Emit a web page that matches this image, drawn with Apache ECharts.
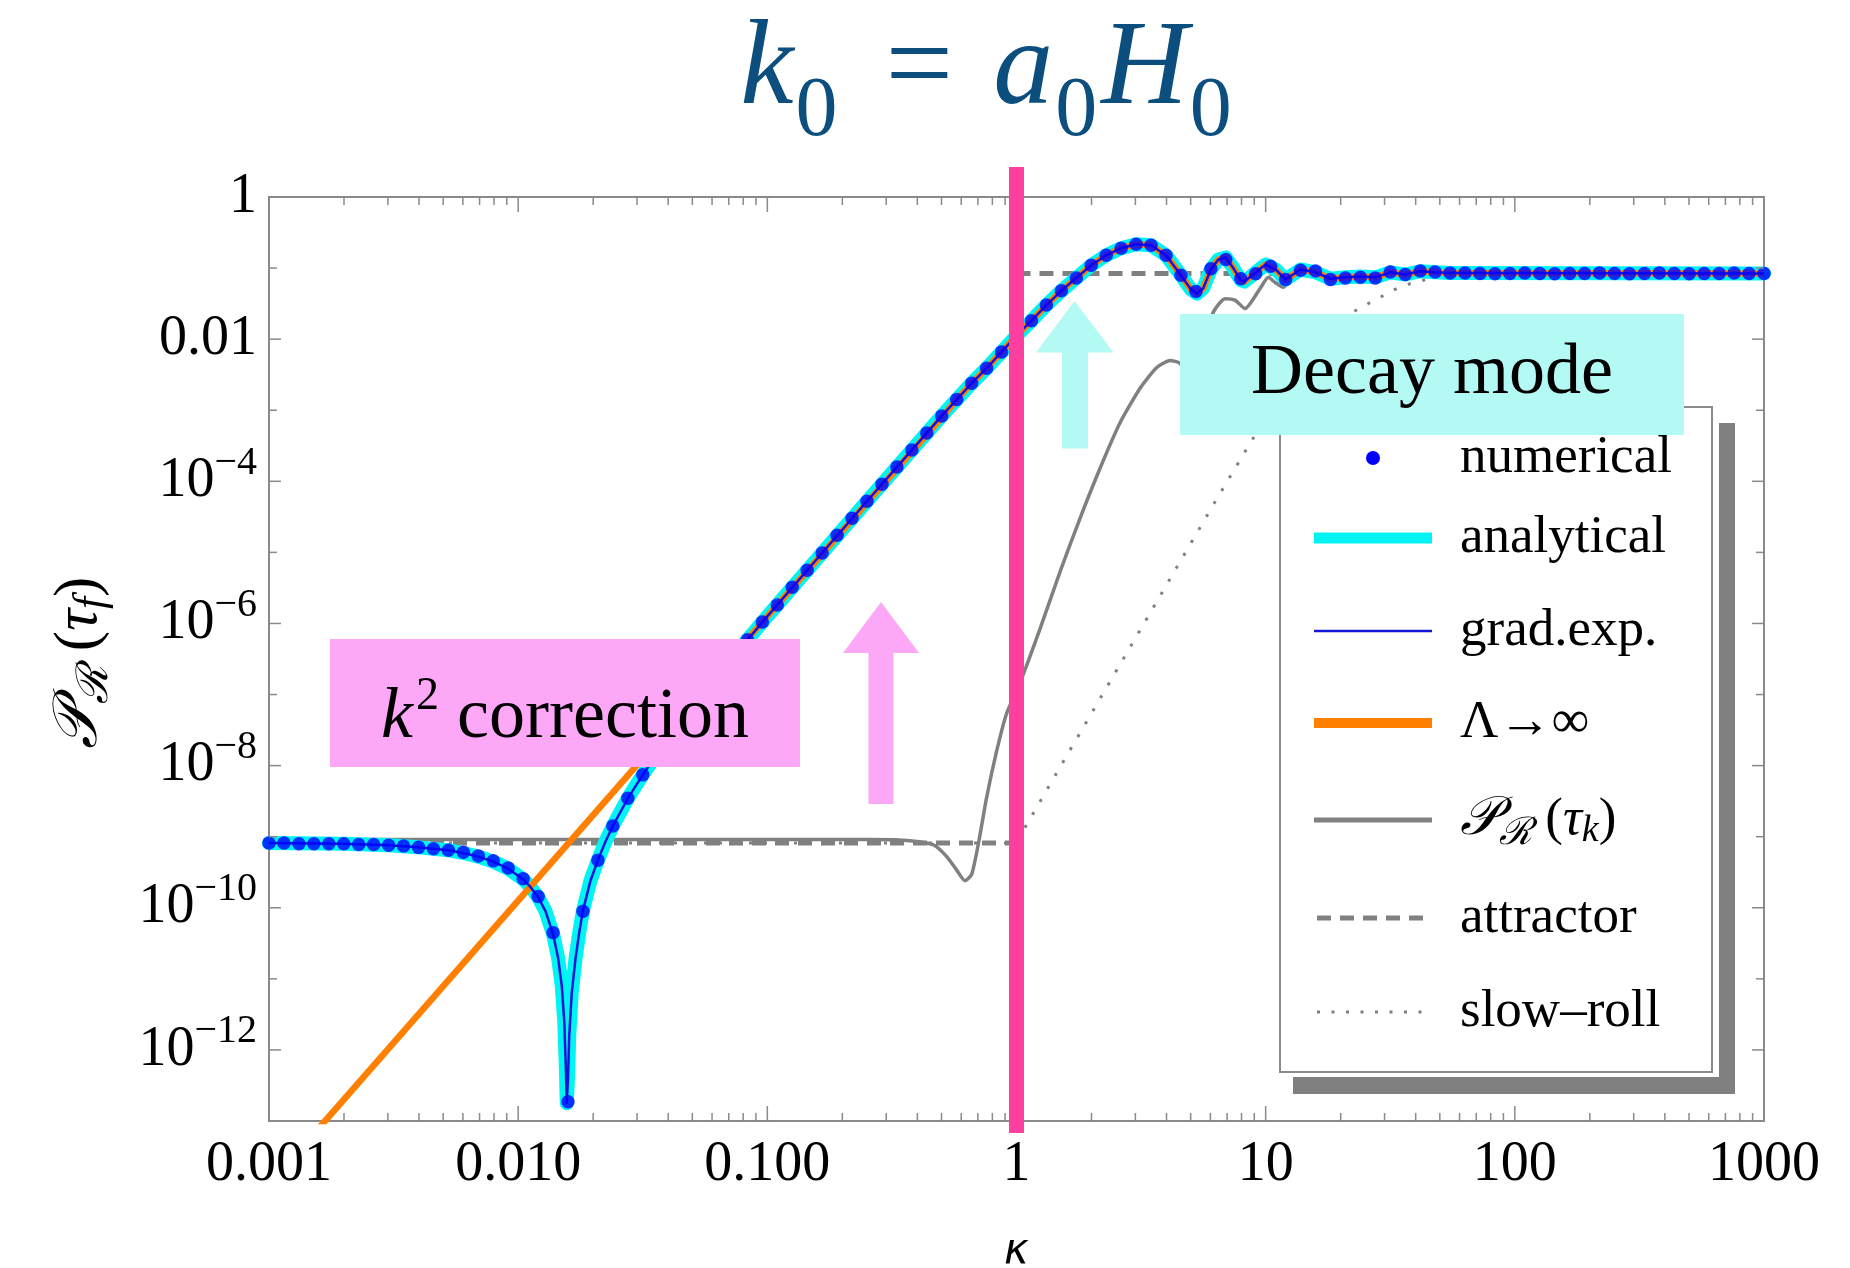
<!DOCTYPE html>
<html><head><meta charset="utf-8">
<script src="https://cdn.jsdelivr.net/npm/echarts@6/dist/echarts.min.js"></script>
<style>html,body{margin:0;padding:0;background:#fff;}#c{width:1850px;height:1268px;}</style>
</head><body><div id="c"></div>
<script>
// ---------- tick labels ----------
const xTickValues = [0.001, 0.01, 0.1, 1, 10, 100, 1000];
const xTickLabels = ['0.001', '0.010', '0.100', '1', '10', '100', '1000'];
const yLabelExps = [0, -2, -4, -6, -8, -10, -12];
const yLabelTexts = ['1', '0.01', '10|4', '10|6', '10|8', '10|10', '10|12'];
const seriesNames = ['numerical', 'analytical', 'grad.exp.', 'Λ→∞', 'P_R(τ_k)', 'attractor', 'slow–roll'];

// ---------- data (log10 k , log10 P) ----------
const numLogK = [-3.00,-2.94,-2.88,-2.82,-2.76,-2.70,-2.64,-2.58,-2.52,-2.46,
-2.40,-2.34,-2.28,-2.22,-2.16,-2.10,-2.04,-1.98,-1.92,-1.86,
-1.80,-1.74,-1.68,-1.62,-1.56,-1.50,-1.44,-1.38,-1.32,-1.26,
-1.20,-1.14,-1.08,-1.02,-0.96,-0.90,-0.84,-0.78,-0.72,-0.66,
-0.60,-0.54,-0.48,-0.42,-0.36,-0.30,-0.24,-0.18,-0.12,-0.06,
0.00,0.06,0.12,0.18,0.24,0.30,0.36,0.42,0.48,0.54,
0.60,0.66,0.72,0.78,0.84,0.90,0.96,1.02,1.08,1.14,
1.20,1.26,1.32,1.38,1.44,1.50,1.56,1.62,1.68,1.74,
1.80,1.86,1.92,1.98,2.04,2.10,2.16,2.22,2.28,2.34,
2.40,2.46,2.52,2.58,2.64,2.70,2.76,2.82,2.88,2.94,
3.00];
const numLogP = [-9.09,-9.09,-9.10,-9.10,-9.10,-9.10,-9.11,-9.11,-9.12,-9.13,
-9.15,-9.17,-9.19,-9.22,-9.27,-9.34,-9.44,-9.59,-9.84,-10.35,
-12.73,-10.05,-9.33,-8.85,-8.46,-8.13,-7.82,-7.53,-7.26,-6.99,
-6.73,-6.48,-6.23,-5.98,-5.74,-5.49,-5.25,-5.01,-4.76,-4.52,
-4.28,-4.04,-3.80,-3.56,-3.32,-3.08,-2.85,-2.62,-2.41,-2.18,
-1.95,-1.74,-1.52,-1.32,-1.14,-0.96,-0.82,-0.72,-0.665,-0.68,
-0.82,-1.10,-1.33,-1.01,-0.88,-1.15,-1.08,-0.975,-1.16,-1.03,
-1.04,-1.16,-1.14,-1.13,-1.14,-1.055,-1.09,-1.04,-1.055,-1.07,
-1.07,-1.075,-1.08,-1.075,-1.07,-1.075,-1.08,-1.075,-1.075,-1.07,
-1.075,-1.08,-1.075,-1.07,-1.075,-1.08,-1.075,-1.075,-1.07,-1.075,
-1.075];

const anaLogK = [-3.00,-2.70,-2.52,-2.40,-2.28,-2.22,-2.16,-2.10,-2.04,-1.98,-1.95,-1.92,-1.89,-1.86,-1.84,-1.825,-1.815,-1.809,-1.805,-1.800,-1.795,-1.785,-1.77,-1.755,-1.74,-1.71,-1.68,-1.65,-1.62,-1.56,-1.50,-1.40,-1.30,-1.20,-1.00,-0.80,-0.60,-0.40,-0.30,-0.24,-0.18,-0.12,-0.06,0.00,0.06,0.12,0.18,0.24,0.30,0.36,0.42,0.48,0.54,0.60,0.66,0.70,0.725,0.75,0.78,0.81,0.84,0.87,0.90,0.915,0.96,1.00,1.04,1.08,1.14,1.20,1.26,1.32,1.38,1.44,1.50,1.56,1.62,1.68,1.74,1.80,3.00];
const anaLogP = [-9.09,-9.10,-9.12,-9.15,-9.19,-9.23,-9.28,-9.35,-9.45,-9.60,-9.71,-9.85,-10.05,-10.37,-10.70,-11.10,-11.60,-12.20,-12.75,-12.40,-11.80,-11.20,-10.72,-10.35,-10.04,-9.62,-9.33,-9.07,-8.85,-8.46,-8.13,-7.62,-7.17,-6.73,-5.90,-5.09,-4.28,-3.48,-3.08,-2.85,-2.62,-2.41,-2.18,-1.95,-1.74,-1.52,-1.32,-1.14,-0.96,-0.82,-0.72,-0.665,-0.68,-0.82,-1.10,-1.30,-1.36,-1.28,-1.02,-0.88,-0.85,-1.00,-1.17,-1.19,-1.06,-0.95,-1.02,-1.16,-1.02,-1.06,-1.15,-1.13,-1.12,-1.13,-1.06,-1.09,-1.045,-1.06,-1.07,-1.07,-1.075];

const lamLowLogK = [-2.80,-2.40,-2.00,-1.60,-1.20,-1.00,-0.80,-0.60,-0.40,-0.30];
const lamLowLogP = [-13.10,-11.50,-9.90,-8.30,-6.70,-5.90,-5.10,-4.30,-3.50,-3.10];

const tauLogK = [-3.00,-0.60,-0.47,-0.39,-0.33,-0.28,-0.24,-0.207,-0.18,-0.153,-0.12,-0.08,-0.04,0.02,0.094,0.175,0.255,0.335,0.415,0.496,0.563,0.616,0.656,0.70,0.75,0.79,0.837,0.877,0.917,0.977,1.011,1.037,1.071,1.10,1.14,1.20,3.00];
const tauLogP = [-9.04,-9.04,-9.045,-9.07,-9.12,-9.28,-9.47,-9.62,-9.53,-9.10,-8.45,-7.80,-7.27,-6.78,-6.08,-5.27,-4.52,-3.82,-3.18,-2.69,-2.40,-2.30,-2.34,-2.55,-2.05,-1.62,-1.43,-1.45,-1.57,-1.29,-1.13,-1.20,-1.27,-1.17,-1.10,-1.09,-1.08];

const attLogK = [-3.00, 0.00, 0.00, 0.00, 3.00];
const attLogP = [-9.09, -9.09, null, -1.077, -1.077];

const srLogK = [-3.00,0.00,0.034,0.20,0.40,0.60,0.80,0.94,1.05,1.15,1.25,1.34,1.40,1.45,1.50,1.55,1.61,1.68,1.80,3.00];
const srLogP = [-9.09,-9.09,-8.87,-7.87,-6.67,-5.47,-4.27,-3.45,-2.82,-2.32,-1.93,-1.64,-1.52,-1.43,-1.33,-1.25,-1.19,-1.13,-1.09,-1.08];

// ---------- styling ----------
const FONT = "'Liberation Serif','Times New Roman',serif";
const GRAY = '#808080';
const CYAN = '#00f4f4';
const BLUE_DOT = '#0000ff';
const BLUE_LINE = '#1414d8';
const ORANGE = '#ff8000';
const PINK_LINE = '#ff3fa0';
const PINK_BOX = '#fca8f7';
const CYAN_BOX = '#b3f9f4';
const TITLE_C = '#0c4e7e';

const p10 = v => (v === null ? null : Math.pow(10, v));
const pairs = (K, P) => K.map((k, i) => [p10(k), p10(P[i])]);

const lamLogK = lamLowLogK.concat(anaLogK.filter(k => k > -0.30));
const lamLogP = lamLowLogP.concat(anaLogP.filter((p, i) => anaLogK[i] > -0.30));

// axis tick marks (decorations)
const tickData = [];
xTickValues.forEach(v => tickData.push([v, 1e-6, 15, 0]));
for (let d = -3; d < 3; d++) for (let m = 2; m <= 9; m++) tickData.push([m * Math.pow(10, d), 1e-6, 8, 0]);
for (let e = -13; e <= 0; e++) tickData.push([1, Math.pow(10, e), (e % 2 === 0) ? 12 : 8, 1]);
const yLabelData = yLabelExps.map((e, i) => [1, Math.pow(10, e), i]);

const yRich = {
  b: {fontSize: 56, fontFamily: FONT, fill: '#000', lineHeight: 56, verticalAlign: 'middle'},
  s: {fontSize: 40, fontFamily: FONT, fill: '#000', lineHeight: 40, verticalAlign: 'middle', padding: [0, 0, 36, 0]}
};
function yLabelRich(i) {
  const t = yLabelTexts[i];
  if (t.indexOf('|') < 0) return '{b|' + t + '}';
  const parts = t.split('|');
  return '{b|' + parts[0] + '}{s|−' + parts[1] + '}';
}

const chart = echarts.init(document.getElementById('c'), null, {renderer: 'canvas', width: 1850, height: 1268});

const lineBase = {type: 'line', symbol: 'none', silent: true, animation: false, clip: true};

chart.setOption({
  animation: false,
  backgroundColor: '#ffffff',
  grid: {left: 269, top: 197, width: 1495, height: 924, show: true, borderColor: '#8a8a8a', borderWidth: 2,
         backgroundColor: 'transparent', containLabel: false, outerBoundsMode: 'none'},
  xAxis: {
    type: 'log', logBase: 10, min: 0.001, max: 1000, splitNumber: 6,
    axisLine: {show: false}, axisTick: {show: false}, splitLine: {show: false}, minorTick: {show: false},
    axisLabel: {
      fontSize: 56, fontFamily: FONT, color: '#000', margin: 16,
      formatter: v => { const i = xTickValues.findIndex(t => Math.abs(Math.log10(t) - Math.log10(v)) < 1e-6); return i >= 0 ? xTickLabels[i] : ''; }
    },
    name: 'κ', nameLocation: 'middle', nameGap: 110,
    nameTextStyle: {fontSize: 42, fontStyle: 'italic', fontFamily: "'DejaVu Sans',sans-serif", color: '#000'}
  },
  yAxis: {
    type: 'log', logBase: 10, min: 1e-13, max: 1,
    axisLine: {show: false}, axisTick: {show: false}, splitLine: {show: false}, minorTick: {show: false},
    axisLabel: {show: false}
  },
  series: [
    Object.assign({}, lineBase, {name: seriesNames[6], data: pairs(srLogK, srLogP), z: 2,
      lineStyle: {color: GRAY, width: 3, type: [3, 12], cap: 'butt'}}),
    Object.assign({}, lineBase, {name: seriesNames[5], data: pairs(attLogK, attLogP), z: 3, connectNulls: false,
      lineStyle: {color: GRAY, width: 5, type: [14, 9], cap: 'butt'}}),
    Object.assign({}, lineBase, {name: seriesNames[4], data: pairs(tauLogK, tauLogP), z: 4, smooth: 0.2,
      lineStyle: {color: GRAY, width: 3.5}}),
    Object.assign({}, lineBase, {name: seriesNames[1], data: pairs(anaLogK, anaLogP), z: 5,
      lineStyle: {color: CYAN, width: 14, join: 'round', cap: 'round'}}),
    Object.assign({}, lineBase, {name: seriesNames[3], data: pairs(lamLogK, lamLogP), z: 6,
      lineStyle: {color: ORANGE, width: 6.5, join: 'round'}}),
    Object.assign({}, lineBase, {name: seriesNames[2], data: pairs(anaLogK, anaLogP), z: 7,
      lineStyle: {color: BLUE_LINE, width: 2.5, join: 'round'}}),
    {type: 'scatter', name: seriesNames[0], data: pairs(numLogK, numLogP), z: 8, silent: true, animation: false,
      symbol: 'circle', symbolSize: 13.5, itemStyle: {color: BLUE_DOT}},
    {type: 'custom', name: 'ticks', data: tickData, z: 9, silent: true, animation: false, clip: false,
      encode: {x: 0, y: 1},
      renderItem: function (params, api) {
        const cs = params.coordSys;
        const len = api.value(2), kind = api.value(3);
        const st = {stroke: '#8a8a8a', lineWidth: 1.5};
        if (kind === 0) {
          const x = api.coord([api.value(0), 1e-6])[0];
          return {type: 'group', children: [
            {type: 'line', shape: {x1: x, y1: cs.y + cs.height, x2: x, y2: cs.y + cs.height - len}, style: st},
            {type: 'line', shape: {x1: x, y1: cs.y, x2: x, y2: cs.y + len}, style: st}
          ]};
        }
        const y = api.coord([1, api.value(1)])[1];
        return {type: 'group', children: [
          {type: 'line', shape: {x1: cs.x, y1: y, x2: cs.x + len, y2: y}, style: st},
          {type: 'line', shape: {x1: cs.x + cs.width, y1: y, x2: cs.x + cs.width - len, y2: y}, style: st}
        ]};
      }
    },
    {type: 'custom', name: 'yLabels', data: yLabelData, z: 9, silent: true, animation: false, clip: false,
      encode: {x: 0, y: 1},
      renderItem: function (params, api) {
        const cs = params.coordSys;
        const y = api.coord([1, api.value(1)])[1];
        return {type: 'text', x: cs.x - 12, y: y, style: {
          text: yLabelRich(api.value(2)), rich: yRich, align: 'right', verticalAlign: 'middle',
          fontSize: 56, fontFamily: FONT, fill: '#000'}};
      }
    }
  ]
});

// ---------- annotations, legend, titles ----------
const x1 = chart.convertToPixel({xAxisIndex: 0}, 1);
const legendY = [458, 538, 631, 723, 820, 918, 1012];
const LX1 = 1314, LX2 = 1432, TX = 1460;
const legTextStyle = {fontSize: 53, fontFamily: FONT, fill: '#000', align: 'left', verticalAlign: 'middle'};
const g = [];
g.push({type: 'rect', z: 50, silent: true, shape: {x: x1 - 7.5, y: 167, width: 15, height: 966}, style: {fill: PINK_LINE}});
// legend box with shadow
g.push({type: 'rect', z: 60, silent: true, shape: {x: 1293, y: 423, width: 442, height: 671}, style: {fill: GRAY}});
g.push({type: 'rect', z: 61, silent: true, shape: {x: 1276, y: 402, width: 443, height: 675}, style: {fill: '#fff'}});
g.push({type: 'rect', z: 62, silent: true, shape: {x: 1280, y: 407, width: 432, height: 665}, style: {fill: 'none', stroke: '#8a8a8a', lineWidth: 2}});
g.push({type: 'circle', z: 63, silent: true, shape: {cx: (LX1 + LX2) / 2, cy: legendY[0], r: 7}, style: {fill: BLUE_DOT}});
g.push({type: 'line', z: 63, silent: true, shape: {x1: LX1, y1: legendY[1], x2: LX2, y2: legendY[1]}, style: {stroke: CYAN, lineWidth: 11}});
g.push({type: 'line', z: 63, silent: true, shape: {x1: LX1, y1: legendY[2], x2: LX2, y2: legendY[2]}, style: {stroke: BLUE_LINE, lineWidth: 2.5}});
g.push({type: 'line', z: 63, silent: true, shape: {x1: LX1, y1: legendY[3], x2: LX2, y2: legendY[3]}, style: {stroke: ORANGE, lineWidth: 10}});
g.push({type: 'line', z: 63, silent: true, shape: {x1: LX1, y1: legendY[4], x2: LX2, y2: legendY[4]}, style: {stroke: GRAY, lineWidth: 5}});
g.push({type: 'line', z: 63, silent: true, shape: {x1: 1317, y1: legendY[5], x2: 1427, y2: legendY[5]}, style: {stroke: GRAY, lineWidth: 5, lineDash: [14, 9]}});
g.push({type: 'line', z: 63, silent: true, shape: {x1: 1317, y1: legendY[6], x2: 1427, y2: legendY[6]}, style: {stroke: GRAY, lineWidth: 3, lineDash: [3, 11.5]}});
[0, 1, 2, 3, 5, 6].forEach(i => {
  g.push({type: 'text', z: 63, silent: true, x: TX, y: legendY[i], style: Object.assign({text: seriesNames[i]}, legTextStyle)});
});
function scriptRich(s) {
  return {
    p: {fontSize: 54 * s, fontFamily: "'DejaVu Serif',serif", fontStyle: 'italic', fill: '#000', verticalAlign: 'middle', lineHeight: 60 * s},
    r: {fontSize: 38 * s, fontFamily: "'DejaVu Serif',serif", fontStyle: 'italic', fill: '#000', verticalAlign: 'middle', lineHeight: 40 * s, padding: [28 * s, 0, 0, 0]},
    n: {fontSize: 53 * s, fontFamily: FONT, fill: '#000', verticalAlign: 'middle', lineHeight: 60 * s},
    t: {fontSize: 53 * s, fontFamily: FONT, fontStyle: 'italic', fill: '#000', verticalAlign: 'middle', lineHeight: 60 * s},
    k: {fontSize: 38 * s, fontFamily: FONT, fontStyle: 'italic', fill: '#000', verticalAlign: 'middle', lineHeight: 40 * s, padding: [22 * s, 0, 0, 0]}
  };
}
g.push({type: 'text', z: 63, silent: true, x: TX, y: legendY[4],
  style: {text: '{p|𝒫}{r|ℛ}{n| (}{t|τ}{k|k}{n|)}', rich: scriptRich(1), align: 'left', verticalAlign: 'middle'}});
// y axis title
g.push({type: 'text', z: 63, silent: true, x: 80, y: 663, rotation: Math.PI / 2,
  style: {text: '{p|𝒫}{r|ℛ}{n| (}{t|τ}{k|f}{n|)}', rich: scriptRich(1.15), align: 'center', verticalAlign: 'middle'}});
// Decay mode box
g.push({type: 'rect', z: 70, silent: true, shape: {x: 1180, y: 314, width: 504, height: 121}, style: {fill: CYAN_BOX}});
g.push({type: 'text', z: 71, silent: true, x: 1432, y: 374, style: {text: 'Decay mode', fontSize: 72, fontFamily: FONT, fill: '#000', align: 'center', verticalAlign: 'middle'}});
// k^2 correction box
g.push({type: 'rect', z: 70, silent: true, shape: {x: 330, y: 639, width: 470, height: 128}, style: {fill: PINK_BOX}});
g.push({type: 'text', z: 71, silent: true, x: 565, y: 718, style: {
  text: '{k|k}{s|2}{c| correction}', align: 'center', verticalAlign: 'middle',
  rich: {
    k: {fontSize: 72, fontFamily: FONT, fontStyle: 'italic', fill: '#000', verticalAlign: 'middle', lineHeight: 72},
    s: {fontSize: 46, fontFamily: FONT, fill: '#000', verticalAlign: 'middle', lineHeight: 46, padding: [0, 0, 42, 3]},
    c: {fontSize: 72, fontFamily: FONT, fill: '#000', verticalAlign: 'middle', lineHeight: 72}
  }}});
// arrows
g.push({type: 'polygon', z: 70, silent: true, shape: {points: [[843, 653], [881, 602], [919, 653], [893.5, 653], [893.5, 804], [868.5, 804], [868.5, 653]]}, style: {fill: PINK_BOX}});
g.push({type: 'polygon', z: 70, silent: true, shape: {points: [[1036, 352.5], [1074.5, 301], [1113.5, 352.5], [1088, 352.5], [1088, 448.5], [1062, 448.5], [1062, 352.5]]}, style: {fill: CYAN_BOX}});
// chart title k0 = a0 H0
g.push({type: 'text', z: 80, silent: true, x: 988, y: 71, style: {
  text: '{i|k}{s|0}{e|=}{i|a}{s|0}{i|H}{s|0}', align: 'center', verticalAlign: 'middle',
  rich: {
    i: {fontSize: 120, fontFamily: FONT, fontStyle: 'italic', fill: TITLE_C, verticalAlign: 'middle', lineHeight: 130},
    s: {fontSize: 84, fontFamily: FONT, fill: TITLE_C, verticalAlign: 'middle', lineHeight: 94, padding: [84, 4, 0, 2]},
    e: {fontSize: 120, fontFamily: FONT, fill: TITLE_C, verticalAlign: 'middle', lineHeight: 130, padding: [0, 40, 0, 44]}
  }}});
chart.setOption({graphic: g});
</script>
</body></html>
